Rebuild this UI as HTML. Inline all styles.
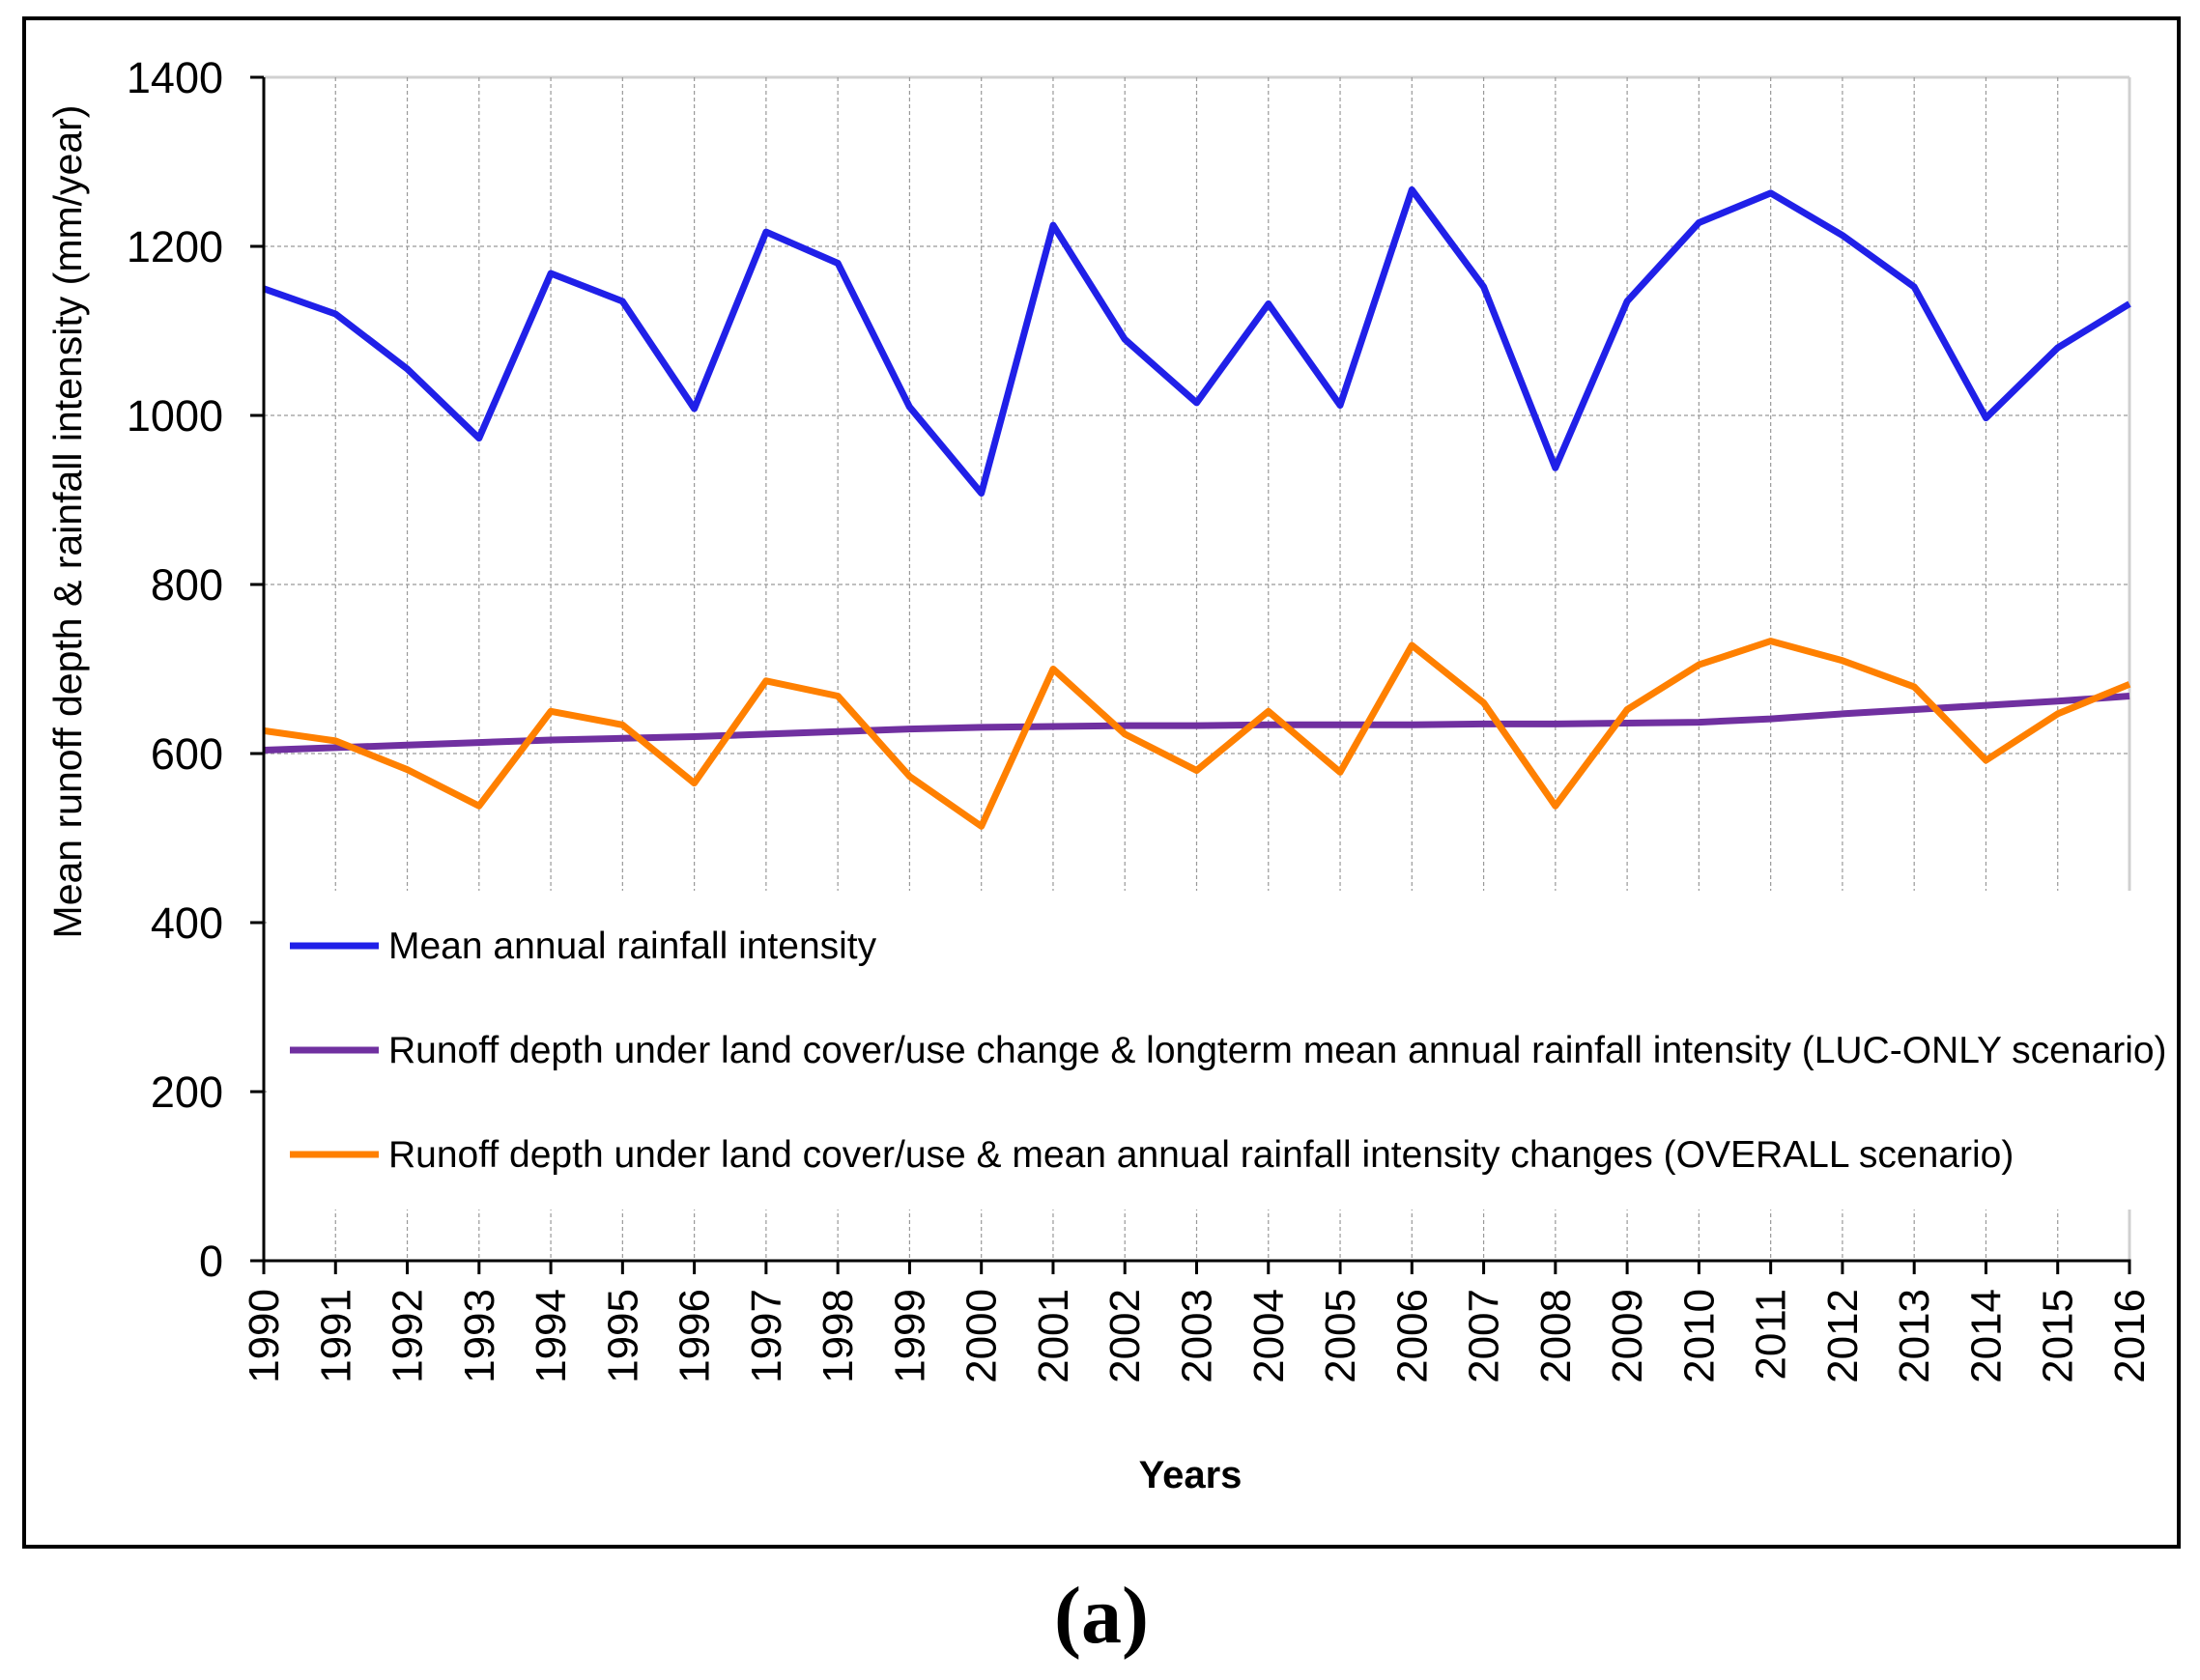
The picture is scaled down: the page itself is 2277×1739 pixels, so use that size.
<!DOCTYPE html>
<html><head><meta charset="utf-8"><style>
html,body{margin:0;padding:0;background:#fff;}
svg{display:block;font-family:"Liberation Sans",sans-serif;}
</style></head><body>
<svg id="chart" width="2277" height="1739" viewBox="0 0 2277 1739">
<rect x="25" y="19" width="2230" height="1582" fill="#fff" stroke="#000" stroke-width="4"/>
<g id="grid"></g>
<g id="series"></g>
<g id="axes"></g>
<text x="84" y="540" transform="rotate(-90 84 540)" text-anchor="middle" font-size="41">Mean runoff depth &amp; rainfall intensity (mm/year)</text>
<text x="1232" y="1540" text-anchor="middle" font-size="40" font-weight="bold">Years</text>
<g>
<rect x="276" y="922" width="1970" height="330" fill="#fff"/>
<line x1="300" y1="979" x2="392" y2="979" stroke="#2020e8" stroke-width="7"/>
<text x="402" y="992" font-size="39">Mean annual rainfall  intensity</text>
<line x1="300" y1="1087" x2="392" y2="1087" stroke="#7030a0" stroke-width="7"/>
<text x="402" y="1100" font-size="39">Runoff depth under land cover/use change &amp; longterm mean annual rainfall  intensity (LUC-ONLY scenario)</text>
<line x1="300" y1="1195" x2="392" y2="1195" stroke="#ff8000" stroke-width="7"/>
<text x="402" y="1208" font-size="39">Runoff depth under land cover/use &amp; mean annual rainfall intensity changes (OVERALL scenario)</text>
</g>
<text x="1140" y="1700" text-anchor="middle" font-size="84" font-weight="bold" font-family="Liberation Serif, serif">(a)</text>
</svg>
<script>
const years = [1990,1991,1992,1993,1994,1995,1996,1997,1998,1999,2000,2001,2002,2003,2004,2005,2006,2007,2008,2009,2010,2011,2012,2013,2014,2015,2016];
const rainfall = [1150,1120,1055,973,1168,1135,1008,1217,1180,1010,908,1225,1090,1015,1132,1012,1267,1152,938,1135,1228,1263,1213,1152,997,1080,1132];
const lucOnly = [604,607,610,613,616,618,620,623,626,629,631,632,633,633,634,634,634,635,635,636,637,641,647,652,657,662,668];
const overall = [627,615,581,538,650,634,565,686,668,573,514,700,623,580,650,578,728,660,538,652,705,733,710,679,592,647,682];
const yTicks = [0,200,400,600,800,1000,1200,1400];

const NS = "http://www.w3.org/2000/svg";
const L = 273, R = 2204, T = 80, B = 1305, YMAX = 1400;
function xPos(i){ return L + (R - L) * i / (years.length - 1); }
function yPos(v){ return B - (B - T) * v / YMAX; }
function mk(tag, attrs, parent){ const e = document.createElementNS(NS, tag); for (const k in attrs) e.setAttribute(k, attrs[k]); parent.appendChild(e); return e; }

const grid = document.getElementById('grid');
const axes = document.getElementById('axes');
const series = document.getElementById('series');

yTicks.forEach(v => {
  const y = yPos(v);
  if (v > 0) {
    const g = mk('line', {x1: L, x2: R, y1: y, y2: y, stroke: v === YMAX ? '#d0d0d0' : '#999', 'stroke-width': v === YMAX ? 3 : 1.2, 'stroke-dasharray': v === YMAX ? 'none' : '4,3'}, grid);
    
    
  }
  const t = mk('line', {x1: L - 14, x2: L, y1: y, y2: y, stroke: '#000', 'stroke-width': 3}, axes);
  
  
  const lb = mk('text', {x: L - 42, y: y + 16, 'text-anchor': 'end', 'font-size': 45}, axes);
  lb.textContent = v;
  
  
});

years.forEach((yr, i) => {
  const x = xPos(i);
  if (i > 0) {
    const g = mk('line', {x1: x, x2: x, y1: T, y2: B, stroke: i === years.length - 1 ? '#d0d0d0' : '#999', 'stroke-width': i === years.length - 1 ? 3 : 1.2, 'stroke-dasharray': i === years.length - 1 ? 'none' : '4,3'}, grid);
    
    
  }
  const t = mk('line', {x1: x, x2: x, y1: B, y2: B + 14, stroke: '#000', 'stroke-width': 3}, axes);
  
  
  const ly = 1334;
  const lb = mk('text', {x: x + 15, y: ly, 'text-anchor': 'end', 'font-size': 44, transform: 'rotate(-90 ' + (x + 15) + ' ' + ly + ')'}, axes);
  lb.textContent = yr;
  
  
});

const ya = mk('line', {x1: L, x2: L, y1: T, y2: B + 1.5, stroke: '#000', 'stroke-width': 3}, axes);


const xa = mk('line', {x1: L - 1.5, x2: R + 1.5, y1: B, y2: B, stroke: '#000', 'stroke-width': 3}, axes);



function drawLine(vals, color, name){
  const pts = vals.map((v, i) => xPos(i).toFixed(1) + ',' + yPos(v).toFixed(1)).join(' ');
  const p = mk('polyline', {points: pts, fill: 'none', stroke: color, 'stroke-width': 7, 'stroke-linejoin': 'round'}, series);
  
  
}
drawLine(lucOnly, '#7030a0', 'luc-only-line');
drawLine(overall, '#ff8000', 'overall-line');
drawLine(rainfall, '#2020e8', 'rainfall-line');
</script>
</body></html>
